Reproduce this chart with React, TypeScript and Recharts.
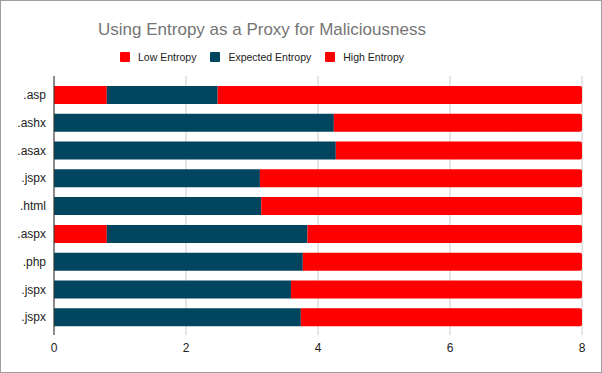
import { BarChart, Bar, XAxis, YAxis, CartesianGrid } from "recharts";

const categories = [".asp", ".ashx", ".asax", ".jspx", ".html", ".aspx", ".php", ".jspx", ".jspx"];
const lowEntropy = [0.8, 0, 0, 0, 0, 0.8, 0, 0, 0];
const expectedEntropy = [1.68, 4.24, 4.27, 3.12, 3.14, 3.04, 3.77, 3.59, 3.74];
const highEntropy = [5.52, 3.76, 3.73, 4.88, 4.86, 4.16, 4.23, 4.41, 4.26];
const xTicks = [0, 2, 4, 6, 8];

const RED = "#ff0000";
const TEAL = "#02455f";
const FONT = "'Liberation Sans', Arial, sans-serif";

const data = categories.map((c, i) => ({
  idx: i,
  low: lowEntropy[i],
  expected: expectedEntropy[i],
  high: highEntropy[i],
}));

const legendItems = [
  { name: "Low Entropy", color: RED },
  { name: "Expected Entropy", color: TEAL },
  { name: "High Entropy", color: RED },
];

export default function App() {
  return (
    <div
      style={{
        position: "absolute", left: 0, top: 0, width: 602, height: 373,
        boxSizing: "border-box", border: "1px solid #9e9e9e", background: "#fff",
        fontFamily: FONT,
      }}
    >
      <div
        style={{
          position: "absolute", left: 0, top: 20, width: 522, textAlign: "center",
          fontSize: 17, lineHeight: "17px", color: "#757575",
        }}
      >
        Using Entropy as a Proxy for Maliciousness
      </div>
      <div
        style={{
          position: "absolute", left: 0, top: 50, width: 522, display: "flex",
          justifyContent: "center", gap: 14, fontSize: 10.5, lineHeight: "12px", color: "#222",
        }}
      >
        {legendItems.map((l) => (
          <span key={l.name} style={{ display: "flex", alignItems: "center", gap: 8 }}>
            <span style={{ width: 10, height: 10, borderRadius: 1, background: l.color }} />
            {l.name}
          </span>
        ))}
      </div>
      <BarChart
        width={600}
        height={371}
        data={data}
        layout="vertical"
        margin={{ top: 75, right: 19, bottom: 7, left: 0 }}
      >
        <CartesianGrid stroke="#cccccc" horizontal={false} />
        <XAxis
          type="number"
          domain={[0, 8]}
          ticks={xTicks}
          height={30}
          axisLine={false}
          tickLine={false}
          tick={{ fill: "#222", fontSize: 12, fontFamily: FONT }}
        />
        <YAxis
          type="category"
          dataKey="idx"
          width={53}
          tickFormatter={(i: number) => categories[i]}
          padding={{ top: 5, bottom: 4 }}
          axisLine={{ stroke: "#333" }}
          tickLine={false}
          tick={{ fill: "#222", fontSize: 12, fontFamily: FONT }}
        />
        <Bar dataKey="low" stackId="a" fill={RED} barSize={18} isAnimationActive={false} />
        <Bar dataKey="expected" stackId="a" fill={TEAL} barSize={18} isAnimationActive={false} />
        <Bar dataKey="high" stackId="a" fill={RED} barSize={18} radius={[0, 2, 2, 0]} isAnimationActive={false} />
      </BarChart>
    </div>
  );
}
